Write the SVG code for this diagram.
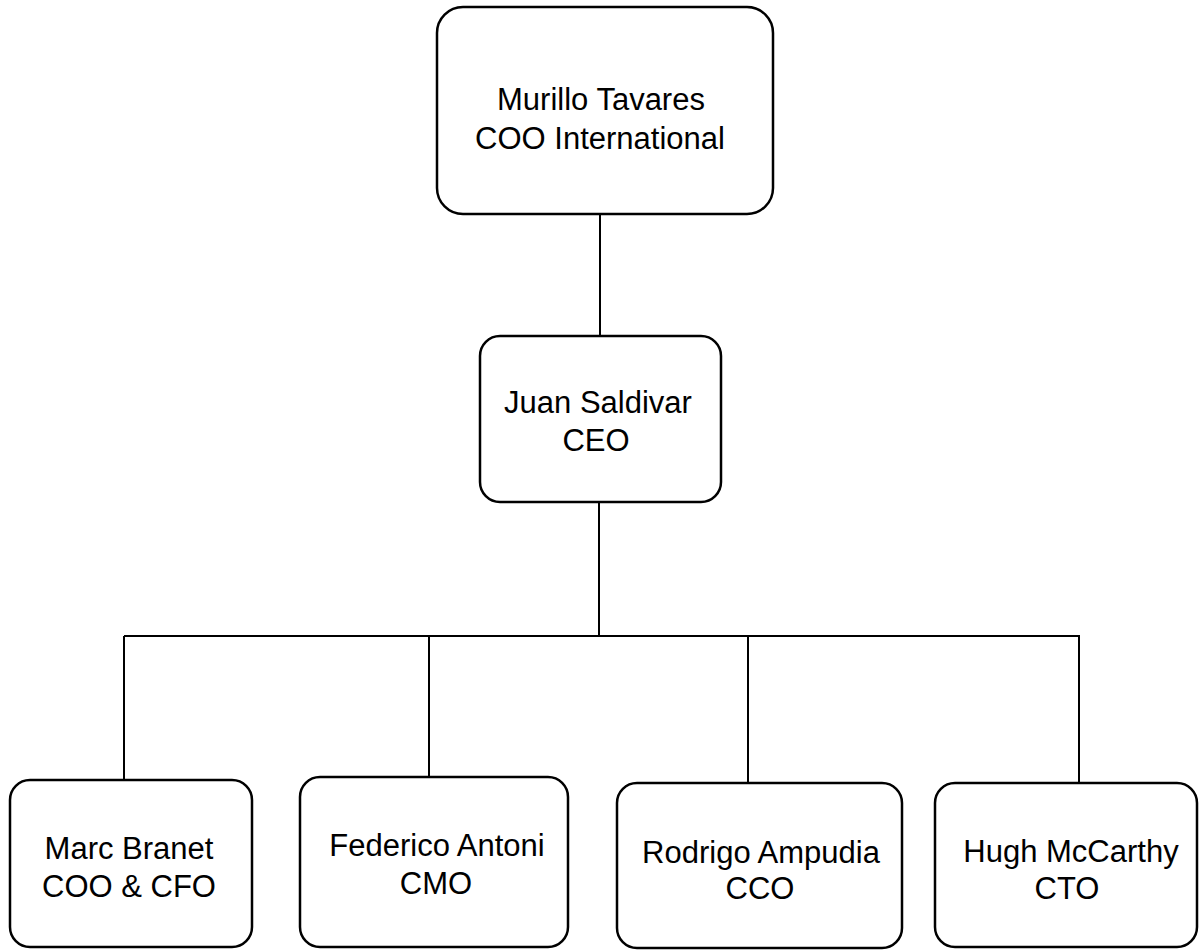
<svg xmlns="http://www.w3.org/2000/svg" width="1199" height="950" viewBox="0 0 1199 950">
  <style>
    .box { fill: #ffffff; stroke: #000000; stroke-width: 2.5; }
    .link { fill: none; stroke: #000000; stroke-width: 2; }
    .label { font-family: "Liberation Sans", Arial, sans-serif; font-size: 31px; fill: #000000; text-anchor: middle; }
  </style>
  <rect width="1199" height="950" fill="#ffffff"/>

  <!-- reporting lines -->
  <g id="connectors">
    <line class="link" x1="600" y1="214" x2="600" y2="336"/>
    <line class="link" x1="599" y1="502" x2="599" y2="636"/>
    <line class="link" x1="124" y1="636" x2="1080" y2="636"/>
    <line class="link" x1="124" y1="636" x2="124" y2="780"/>
    <line class="link" x1="429" y1="636" x2="429" y2="777"/>
    <line class="link" x1="748" y1="636" x2="748" y2="783"/>
    <line class="link" x1="1079" y1="636" x2="1079" y2="783"/>
  </g>

  <g id="murillo-tavares">
    <rect class="box" x="437" y="7" width="336" height="207" rx="26" ry="26"/>
    <text class="label" x="601" y="110">Murillo Tavares</text>
    <text class="label" x="600" y="149">COO International</text>
  </g>

  <g id="juan-saldivar">
    <rect class="box" x="480" y="336" width="241" height="166" rx="20" ry="20"/>
    <text class="label" x="598" y="413">Juan Saldivar</text>
    <text class="label" x="596" y="451">CEO</text>
  </g>

  <g id="marc-branet">
    <rect class="box" x="10" y="780" width="242" height="167" rx="20" ry="20"/>
    <text class="label" x="129" y="859">Marc Branet</text>
    <text class="label" x="129" y="897">COO &amp; CFO</text>
  </g>

  <g id="federico-antoni">
    <rect class="box" x="300" y="777" width="268" height="170" rx="20" ry="20"/>
    <text class="label" x="437" y="856">Federico Antoni</text>
    <text class="label" x="436" y="894">CMO</text>
  </g>

  <g id="rodrigo-ampudia">
    <rect class="box" x="617" y="783" width="285" height="165" rx="20" ry="20"/>
    <text class="label" x="761" y="863">Rodrigo Ampudia</text>
    <text class="label" x="760" y="899">CCO</text>
  </g>

  <g id="hugh-mccarthy">
    <rect class="box" x="935" y="783" width="262" height="164" rx="20" ry="20"/>
    <text class="label" x="1071" y="862">Hugh McCarthy</text>
    <text class="label" x="1067" y="899">CTO</text>
  </g>
</svg>
